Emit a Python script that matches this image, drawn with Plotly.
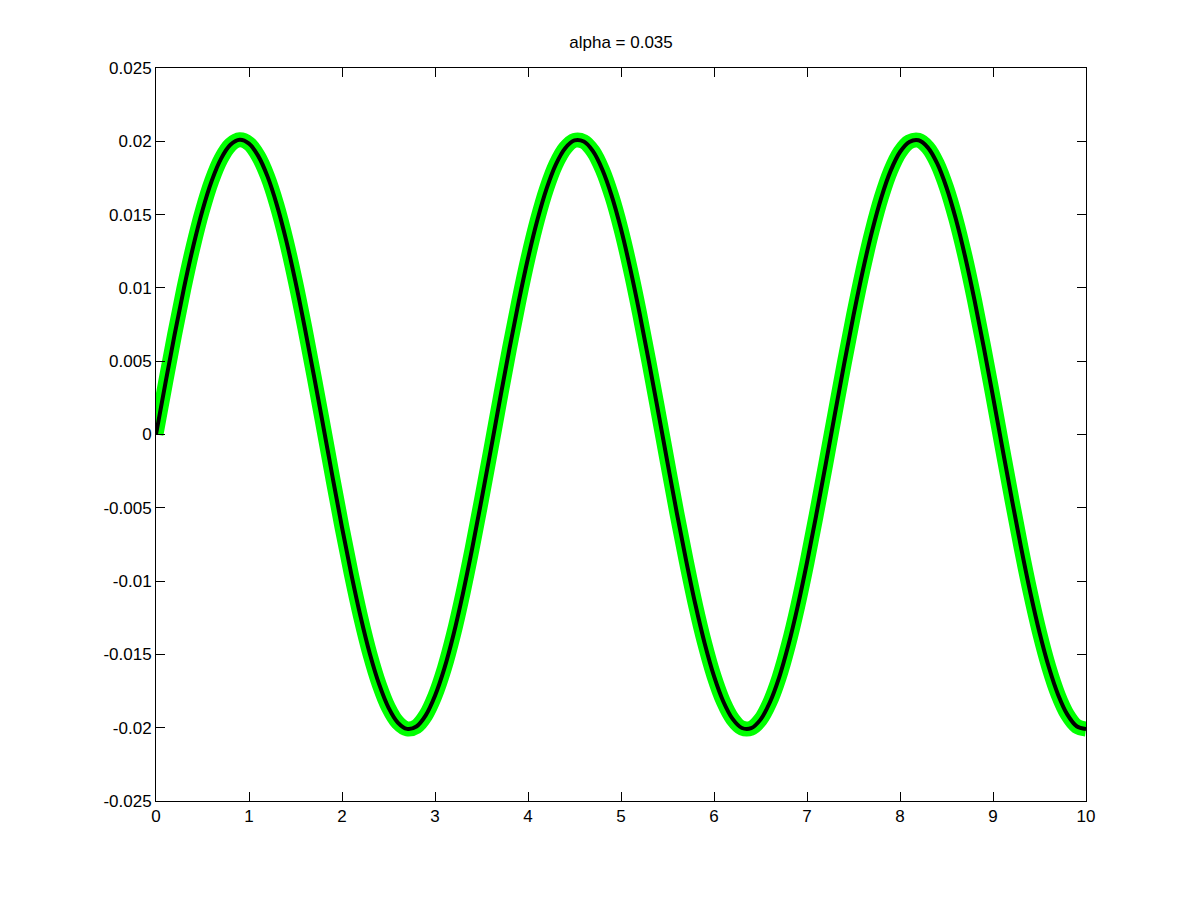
import plotly.graph_objects as go

x_vals = [round(i * 0.1, 1) for i in range(101)]
y_vals = [
    0.0, 0.00346, 0.00682, 0.00997, 0.01283, 0.01530, 0.01732, 0.01882, 0.01976, 0.02010,
    0.01984, 0.01899, 0.01759, 0.01565, 0.01324, 0.01041, 0.00728, 0.00395, 0.00052, -0.00295,
    -0.00633, -0.00952, -0.01243, -0.01497, -0.01705, -0.01863, -0.01965, -0.02008, -0.01992, -0.01916,
    -0.01782, -0.01597, -0.01362, -0.01085, -0.00777, -0.00446, -0.00104, 0.00244, 0.00584, 0.00906,
    0.01202, 0.01461, 0.01677, 0.01843, 0.01953, 0.02006, 0.01998, 0.01931, 0.01806, 0.01628,
    0.01401, 0.01130, 0.00826, 0.00497, 0.00155, -0.00192, -0.00534, -0.00858, -0.01160, -0.01425,
    -0.01648, -0.01821, -0.01940, -0.02002, -0.02003, -0.01945, -0.01828, -0.01658, -0.01436, -0.01172,
    -0.00873, -0.00547, -0.00207, 0.00140, 0.00484, 0.00812, 0.01117, 0.01388, 0.01618, 0.01800,
    0.01927, 0.01996, 0.02007, 0.01957, 0.01849, 0.01685, 0.01471, 0.01214, 0.00920, 0.00598,
    0.00258, -0.00089, -0.00433, -0.00765, -0.01074, -0.01350, -0.01586, -0.01775, -0.01911, -0.01990,
    -0.02009,
]

x_ticks = [0, 1, 2, 3, 4, 5, 6, 7, 8, 9, 10]
y_ticks = [-0.025, -0.02, -0.015, -0.01, -0.005, 0, 0.005, 0.01, 0.015, 0.02, 0.025]
y_tick_text = ["-0.025", "-0.02", "-0.015", "-0.01", "-0.005", "0",
               "0.005", "0.01", "0.015", "0.02", "0.025"]

fig = go.Figure()
fig.add_trace(go.Scatter(x=x_vals, y=y_vals, mode="lines",
                         line=dict(color="#00ff00", width=15, shape="spline"),
                         showlegend=False))
fig.add_trace(go.Scatter(x=x_vals, y=y_vals, mode="lines",
                         line=dict(color="#000000", width=4, shape="spline"),
                         showlegend=False))

axis_common = dict(showline=True, linecolor="black", linewidth=1, mirror="ticks",
                   ticks="inside", ticklen=9, tickcolor="black", showgrid=False,
                   zeroline=False, tickfont=dict(family="Liberation Sans, Arial", size=17, color="black"))

fig.update_layout(
    width=1200, height=900,
    paper_bgcolor="white", plot_bgcolor="white",
    margin=dict(l=148, r=122, t=60, b=107),
    title=dict(text="alpha = 0.035", x=(148 + 1078) / 2 / 1200, xanchor="center",
               y=1 - 34 / 900, yanchor="middle",
               font=dict(family="Liberation Sans, Arial", size=17, color="black")),
    xaxis=dict(range=[0, 10], tickvals=x_ticks, **axis_common),
    yaxis=dict(range=[-0.025, 0.025], tickvals=y_ticks, ticktext=y_tick_text, **axis_common),
)

fig.write_html("out.html")
